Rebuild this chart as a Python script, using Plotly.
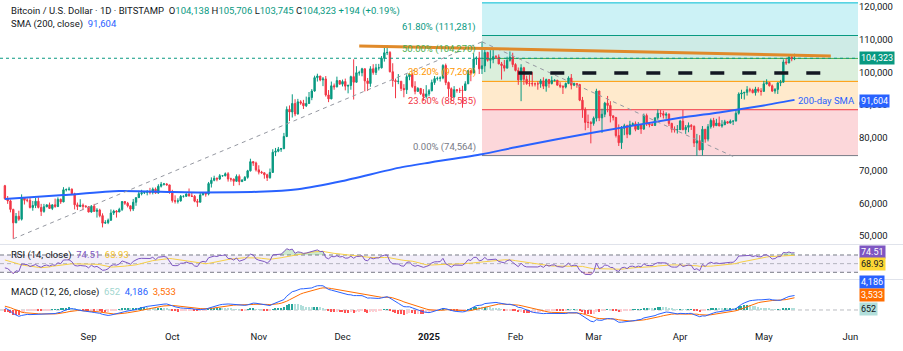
import numpy as np
import pandas as pd
import plotly.graph_objects as go

# ---------------- DATA (BTC/USD daily, thousands of USD) ----------------
# closes before the visible window (only used to warm up RSI / MACD)
close_jun24 = [67.8, 67.8, 68.8, 70.6, 71.1, 70.8, 69.4, 69.3, 69.6, 69.5, 67.3, 68.2, 66.8, 66.0, 66.2,
               66.6, 66.5, 65.2, 65.0, 64.9, 64.1, 64.3, 63.2, 60.3, 61.8, 60.9, 61.6, 60.3, 60.9, 62.7]
close_jul24 = [62.9, 62.0, 60.2, 57.0, 56.6, 58.2, 55.8, 56.7, 57.9, 57.7, 57.3, 57.9, 59.2, 60.8, 64.7, 65.1,
               64.1, 63.9, 66.7, 67.1, 68.2, 67.6, 65.9, 65.4, 65.8, 67.9, 68.0, 68.3, 66.8, 66.2, 64.6]

close_aug24 = [65.35, 61.4, 60.7, 58.1, 54.0, 56.0, 55.1, 61.7, 60.9, 60.9, 58.7, 59.3, 60.6, 58.7, 57.5, 58.9,
               59.5, 58.4, 59.5, 59.0, 61.2, 60.4, 64.1, 64.2, 64.3, 62.9, 59.5, 59.0, 59.4, 59.1, 58.9]
high_aug24 = [65.6, 65.6, 62.2, 61.1, 58.3, 57.0, 57.7, 62.7, 61.8, 61.5, 61.8, 60.7, 61.6, 61.8, 59.8, 59.8,
              59.6, 60.2, 59.6, 61.4, 61.8, 61.4, 64.9, 64.5, 65.0, 64.5, 63.2, 60.2, 61.2, 59.9, 59.4]
low_aug24 = [62.3, 61.1, 59.8, 57.2, 49.1, 53.9, 54.6, 54.7, 59.6, 60.3, 58.4, 57.7, 58.5, 58.4, 56.1, 57.1,
             58.8, 58.3, 57.9, 58.6, 58.8, 59.8, 60.3, 63.6, 63.8, 62.8, 58.1, 57.9, 58.8, 57.9, 58.7]

close_sep24 = [57.3, 59.1, 57.5, 57.9, 56.2, 53.9, 54.1, 54.8, 57.0, 57.6, 57.3, 58.1, 60.5, 60.0, 59.2,
               58.2, 60.3, 61.7, 62.9, 63.2, 63.3, 63.6, 63.3, 64.3, 63.1, 65.2, 65.8, 65.9, 65.6, 63.3]
high_sep24 = [59.1, 59.4, 59.8, 58.5, 58.3, 56.9, 54.8, 55.3, 58.1, 58.0, 57.9, 58.6, 60.6, 60.6, 60.4,
              59.2, 61.3, 61.8, 63.8, 64.1, 63.5, 64.0, 64.7, 64.8, 64.8, 65.8, 66.5, 66.2, 66.1, 65.6]
low_sep24 = [57.2, 57.1, 57.4, 55.6, 55.7, 52.6, 53.7, 53.6, 54.6, 56.4, 55.6, 57.3, 57.6, 59.5, 58.7,
             57.5, 57.6, 59.2, 61.6, 62.4, 62.8, 62.4, 62.7, 62.7, 62.9, 62.9, 64.8, 65.4, 65.4, 62.9]

close_oct24 = [60.8, 60.6, 60.7, 62.1, 62.1, 62.8, 62.2, 62.1, 60.6, 60.3, 62.5, 63.2, 62.8, 66.0, 67.0, 67.6,
               67.4, 68.4, 68.4, 69.0, 67.4, 67.4, 66.7, 68.2, 66.6, 67.0, 67.9, 69.9, 72.7, 72.3, 70.2]
high_oct24 = [64.1, 62.4, 61.5, 62.5, 62.4, 63.0, 64.5, 63.2, 62.5, 61.3, 63.4, 63.4, 63.3, 66.5, 67.9, 68.4,
              67.9, 68.9, 68.6, 69.4, 69.5, 67.8, 67.5, 68.8, 68.8, 67.4, 68.3, 70.2, 73.6, 72.9, 72.7]
low_oct24 = [60.2, 59.9, 59.9, 60.5, 61.7, 62.0, 62.1, 61.9, 60.3, 58.9, 60.3, 62.5, 62.0, 62.4, 64.8, 66.7,
             66.7, 67.1, 68.1, 68.2, 66.6, 66.6, 65.3, 66.6, 65.5, 66.5, 66.8, 67.5, 69.7, 71.4, 69.7]

close_nov24 = [69.5, 69.3, 68.7, 67.8, 69.4, 75.6, 75.9, 76.5, 76.7, 80.4, 88.7, 87.9, 90.5, 87.3, 91.0,
               90.6, 89.8, 90.5, 92.3, 94.3, 98.4, 98.9, 97.7, 98.0, 93.1, 91.9, 95.9, 95.6, 97.5, 96.4]
high_nov24 = [71.6, 69.9, 69.4, 69.0, 70.6, 76.5, 76.9, 77.2, 76.9, 81.5, 89.6, 89.9, 93.3, 91.8, 91.9,
              91.5, 91.6, 92.6, 94.0, 94.9, 99.0, 99.6, 98.7, 98.6, 98.9, 94.6, 97.2, 96.6, 98.7, 97.6]
low_nov24 = [68.8, 69.0, 67.5, 66.8, 67.5, 69.3, 74.4, 75.6, 75.7, 76.5, 80.2, 85.1, 86.2, 86.6, 87.1,
             90.1, 88.8, 89.4, 90.9, 91.5, 94.1, 97.2, 97.3, 95.8, 92.6, 90.9, 91.8, 94.7, 95.4, 96.3]

close_dec24 = [97.2, 95.8, 96.0, 98.7, 97.0, 99.9, 99.9, 101.1, 97.4, 96.6, 101.1, 100.0, 101.4, 101.4, 104.3,
               106.0, 106.1, 100.2, 97.5, 97.2, 97.3, 95.1, 94.7, 98.7, 99.4, 95.7, 94.2, 95.1, 93.5, 92.6, 93.4]
high_dec24 = [97.8, 98.1, 96.3, 99.0, 104.0, 101.9, 100.5, 101.4, 101.2, 98.3, 101.9, 102.5, 102.6, 102.6, 105.0,
              107.8, 108.3, 106.5, 102.8, 98.1, 99.5, 97.3, 96.4, 99.4, 99.9, 99.9, 97.3, 95.5, 95.2, 94.9, 96.1]
low_dec24 = [95.7, 94.5, 93.6, 94.7, 91.7, 96.9, 99.0, 98.8, 94.2, 94.3, 95.6, 99.3, 99.2, 100.6, 101.2,
             103.3, 105.3, 100.0, 95.6, 92.1, 96.4, 94.3, 92.4, 93.4, 97.6, 95.2, 93.3, 94.0, 93.1, 91.3, 92.0]

close_jan25 = [94.4, 96.9, 98.1, 98.2, 98.3, 102.1, 96.9, 95.0, 92.5, 94.7, 94.5, 94.5, 94.5, 96.5, 100.5, 99.8,
               104.1, 104.4, 101.1, 102.0, 106.1, 103.7, 104.0, 104.8, 104.7, 102.6, 102.1, 101.3, 103.7, 104.7, 102.4]
high_jan25 = [94.9, 97.8, 98.9, 98.7, 98.8, 102.5, 102.7, 97.2, 95.4, 95.8, 94.9, 95.3, 95.9, 97.3, 100.7, 100.8,
              105.9, 104.9, 106.3, 109.4, 107.2, 106.3, 106.8, 107.1, 105.3, 105.5, 103.2, 103.8, 104.8, 106.4, 106.0]
low_jan25 = [92.7, 94.2, 96.2, 97.5, 97.2, 97.9, 96.1, 92.5, 91.2, 92.2, 93.8, 93.7, 89.2, 94.3, 96.5, 97.3,
             99.9, 102.3, 99.5, 99.5, 100.1, 103.3, 101.2, 102.8, 104.1, 102.5, 97.8, 100.3, 101.3, 103.3, 101.6]

close_feb25 = [100.6, 97.7, 101.4, 97.9, 96.6, 96.6, 96.5, 96.5, 96.5, 97.4, 95.8, 97.8, 96.6, 97.5,
               97.6, 96.1, 95.8, 95.5, 96.6, 98.3, 96.1, 96.6, 96.3, 91.5, 88.7, 84.7, 84.7, 84.4]
high_feb25 = [102.8, 101.5, 102.5, 101.7, 99.0, 99.2, 100.1, 96.9, 97.3, 98.0, 98.5, 98.1, 98.0, 98.8,
              97.9, 97.7, 97.0, 96.0, 96.9, 98.8, 99.5, 96.9, 96.7, 96.5, 92.5, 89.3, 87.1, 85.1]
low_feb25 = [100.3, 96.2, 91.2, 96.2, 96.2, 95.7, 95.7, 95.7, 94.7, 95.3, 94.9, 94.1, 95.3, 96.3,
             97.2, 96.0, 95.2, 93.4, 95.1, 96.4, 94.8, 95.8, 95.3, 91.2, 86.1, 82.3, 83.0, 78.3]

close_mar25 = [86.0, 94.3, 86.1, 87.2, 90.6, 89.9, 86.7, 86.2, 80.7, 78.5, 82.9, 83.7, 81.1, 84.0, 84.3, 82.6,
               84.0, 82.7, 86.8, 84.2, 84.0, 83.8, 86.1, 87.5, 87.4, 86.9, 87.2, 84.4, 82.6, 82.4, 82.5]
high_mar25 = [86.5, 95.0, 94.4, 88.9, 91.0, 92.8, 91.2, 86.9, 86.4, 84.1, 83.6, 84.3, 84.0, 85.2, 84.7, 85.0,
              84.8, 83.9, 87.4, 87.4, 84.8, 84.5, 86.2, 88.7, 88.5, 88.3, 87.8, 87.5, 84.6, 83.5, 83.9]
low_mar25 = [83.7, 85.0, 85.1, 81.5, 86.3, 87.8, 84.7, 85.3, 80.1, 77.5, 76.6, 80.8, 79.9, 80.8, 83.6, 82.0,
             82.4, 81.2, 82.4, 83.6, 83.2, 83.7, 83.6, 85.5, 86.3, 85.9, 85.8, 83.6, 81.6, 81.6, 81.3]

close_apr25 = [85.1, 82.5, 83.2, 83.8, 83.5, 78.4, 79.1, 76.3, 82.6, 79.6, 83.4, 85.3, 83.7, 84.5, 83.6,
               84.0, 84.9, 84.5, 85.1, 85.1, 87.5, 93.4, 93.7, 93.9, 94.7, 94.6, 93.8, 94.9, 94.3, 94.2]
high_apr25 = [85.5, 88.5, 83.9, 84.7, 84.2, 83.8, 81.2, 80.8, 83.6, 82.7, 84.2, 85.9, 86.1, 85.8, 86.5,
              85.4, 85.5, 85.1, 85.6, 85.3, 88.8, 93.9, 94.7, 94.0, 95.8, 95.3, 95.0, 95.6, 95.5, 95.2]
low_apr25 = [82.4, 82.3, 81.2, 81.7, 82.4, 77.2, 74.5, 76.2, 74.6, 78.5, 78.9, 82.8, 83.1, 83.7, 83.6,
             83.1, 83.9, 84.3, 84.4, 83.9, 85.1, 87.1, 91.9, 91.7, 92.9, 93.9, 93.6, 92.9, 93.8, 92.9]

close_may25 = [96.5, 96.9, 95.9, 94.3, 94.8, 96.8, 97.0, 103.2, 102.9, 104.7, 104.129, 104.323]
high_may25 = [97.4, 97.9, 96.9, 96.3, 95.2, 96.9, 97.7, 104.0, 104.3, 104.9, 104.9, 105.706]
low_may25 = [94.1, 96.3, 95.7, 94.0, 93.5, 93.4, 95.8, 96.9, 102.3, 102.8, 103.4, 103.745]

# header (last candle) values
last_ohlc = [104138, 105706, 103745, 104323]
last_change = "+194 (+0.19%)"

# 200-day SMA (date, value)
sma_dates = ["2024-08-02", "2024-08-23", "2024-09-12", "2024-10-01", "2024-10-10", "2024-11-01", "2024-11-15",
             "2024-12-01", "2024-12-21", "2025-01-01", "2025-01-20", "2025-02-01", "2025-03-01", "2025-04-01",
             "2025-04-15", "2025-05-01", "2025-05-12"]
sma_values = [61300, 62500, 63700, 63400, 63300, 63500, 64300, 66800, 70800, 72400, 75000, 77100, 81650, 86100,
              87770, 89900, 91604]

# legend values shown by the chart
rsi_last, rsi_ma_last = "74.51", "68.93"
macd_hist_last, macd_last, macd_signal_last = "652", "4,186", "3,533"
macd_vals = [652, 4186, 3533]

# Fibonacci retracement
fib_start, fib_end = "2025-01-20", "2025-07-15"
fib_names = ["0.00%", "23.60%", "38.20%", "50.00%", "61.80%", "78.60%"]
fib_values = [74564, 88585, 97260, 104270, 111281, 121262]
fib_colors = ["#787B86", "#F23645", "#FF9800", "#4CAF50", "#089981", "#00BCD4"]
fib_labelled = [True, True, True, True, True, False]

# drawn lines
resist_pts = (("2024-12-07", 108100), ("2025-05-25", 105050))
level_pts = (("2025-02-02", 99800), ("2025-05-22", 99800))
rise_pts = (("2024-08-05", 49100), ("2025-01-20", 109350))
fall_pts = (("2025-01-20", 109350), ("2025-04-20", 74300))

month_ticks = ["2024-09-01", "2024-10-01", "2024-11-01", "2024-12-01", "2025-01-01", "2025-02-01",
               "2025-03-01", "2025-04-01", "2025-05-01", "2025-06-01"]
month_text = ["Sep", "Oct", "Nov", "Dec", "<b>2025</b>", "Feb", "Mar", "Apr", "May", "Jun"]
price_ticks = [50000, 60000, 70000, 80000, 90000, 100000, 110000, 120000]

# ---------------- BUILD SERIES ----------------
all_close = np.array(close_jun24 + close_jul24 + close_aug24 + close_sep24 + close_oct24 + close_nov24 +
                     close_dec24 + close_jan25 + close_feb25 + close_mar25 + close_apr25 + close_may25) * 1000
all_dates = pd.date_range("2024-06-01", periods=len(all_close), freq="D")

highs = np.array(high_aug24 + high_sep24 + high_oct24 + high_nov24 + high_dec24 + high_jan25 + high_feb25 +
                 high_mar25 + high_apr25 + high_may25) * 1000
lows = np.array(low_aug24 + low_sep24 + low_oct24 + low_nov24 + low_dec24 + low_jan25 + low_feb25 +
                low_mar25 + low_apr25 + low_may25) * 1000
ohlc_dates = pd.date_range("2024-08-01", periods=len(highs), freq="D")
off = list(all_dates).index(ohlc_dates[0])
closes = all_close[off:]
opens = all_close[off - 1:-1].copy()
opens[-1] = last_ohlc[0]
highs = np.maximum(highs, np.maximum(opens, closes))
lows = np.minimum(lows, np.minimum(opens, closes))

# RSI 14 (Wilder) + its 14 SMA
delta = np.diff(all_close, prepend=all_close[0])
gain = np.clip(delta, 0, None)
loss = np.clip(-delta, 0, None)
ag = pd.Series(gain).ewm(alpha=1 / 14, adjust=False).mean().values
al = pd.Series(loss).ewm(alpha=1 / 14, adjust=False).mean().values
rsi = 100 - 100 / (1 + ag / al)
rsi_ma = pd.Series(rsi).rolling(14).mean().values

# MACD 12/26/9
s = pd.Series(all_close)
macd = (s.ewm(span=12, adjust=False).mean() - s.ewm(span=26, adjust=False).mean()).values
signal = pd.Series(macd).ewm(span=9, adjust=False).mean().values
hist = macd - signal

vis = all_dates >= pd.Timestamp("2024-08-02")
vd = all_dates[vis]
rsi_v, rsi_ma_v = rsi[vis], rsi_ma[vis]
macd_v, signal_v, hist_v = macd[vis], signal[vis], hist[vis]
hist_prev = hist[np.where(vis)[0] - 1]
hist_colors = []
for h, p in zip(hist_v, hist_prev):
    if h >= 0:
        hist_colors.append("#26A69A" if h > p else "#B2DFDB")
    else:
        hist_colors.append("#FFCDD2" if h > p else "#FF5252")

cvis = ohlc_dates >= pd.Timestamp("2024-08-02")

# ---------------- FIGURE ----------------
FONT = "Roboto, Arial, sans-serif"
TXT = "#131722"
PLOT_H = 323  # px height of plotting area (page 351, bottom margin 28)


def py(pix):  # page-pixel row -> paper fraction for layout elements
    return (PLOT_H - pix) / PLOT_H


fig = go.Figure()

fig.add_trace(go.Candlestick(
    x=ohlc_dates[cvis], open=opens[cvis], high=highs[cvis], low=lows[cvis], close=closes[cvis],
    increasing=dict(line=dict(color="#089981", width=1), fillcolor="#089981"),
    decreasing=dict(line=dict(color="#F23645", width=1), fillcolor="#F23645"),
    whiskerwidth=0, xaxis="x", yaxis="y", showlegend=False, hoverinfo="skip"))

fig.add_trace(go.Scatter(x=pd.to_datetime(sma_dates), y=sma_values, mode="lines",
                         line=dict(color="#2962FF", width=2, shape="spline", smoothing=0.6),
                         xaxis="x", yaxis="y", showlegend=False, hoverinfo="skip"))

# RSI pane
fig.add_trace(go.Scatter(x=vd, y=np.full(len(vd), 70.0), mode="lines", line=dict(width=0),
                         xaxis="x", yaxis="y2", showlegend=False, hoverinfo="skip"))
fig.add_trace(go.Scatter(x=vd, y=np.maximum(rsi_v, 70), mode="lines", line=dict(width=0),
                         fill="tonexty", fillcolor="rgba(76,175,80,0.28)",
                         xaxis="x", yaxis="y2", showlegend=False, hoverinfo="skip"))
fig.add_trace(go.Scatter(x=vd, y=np.full(len(vd), 30.0), mode="lines", line=dict(width=0),
                         xaxis="x", yaxis="y2", showlegend=False, hoverinfo="skip"))
fig.add_trace(go.Scatter(x=vd, y=np.minimum(rsi_v, 30), mode="lines", line=dict(width=0),
                         fill="tonexty", fillcolor="rgba(242,54,69,0.25)",
                         xaxis="x", yaxis="y2", showlegend=False, hoverinfo="skip"))
fig.add_trace(go.Scatter(x=vd, y=rsi_ma_v, mode="lines", line=dict(color="#F7D046", width=1),
                         xaxis="x", yaxis="y2", showlegend=False, hoverinfo="skip"))
fig.add_trace(go.Scatter(x=vd, y=rsi_v, mode="lines", line=dict(color="#7E57C2", width=1),
                         xaxis="x", yaxis="y2", showlegend=False, hoverinfo="skip"))

# MACD pane
fig.add_trace(go.Bar(x=vd, y=hist_v, marker=dict(color=hist_colors, line=dict(width=0)),
                     width=0.45 * 86400000, xaxis="x", yaxis="y3", showlegend=False, hoverinfo="skip"))
fig.add_trace(go.Scatter(x=vd, y=signal_v, mode="lines", line=dict(color="#FF6D00", width=1),
                         xaxis="x", yaxis="y3", showlegend=False, hoverinfo="skip"))
fig.add_trace(go.Scatter(x=vd, y=macd_v, mode="lines", line=dict(color="#2962FF", width=1),
                         xaxis="x", yaxis="y3", showlegend=False, hoverinfo="skip"))

shapes = []
# fib zones
for i in range(1, len(fib_values)):
    c = fib_colors[i]
    r, g, b = int(c[1:3], 16), int(c[3:5], 16), int(c[5:7], 16)
    shapes.append(dict(type="rect", xref="x", yref="y", x0=fib_start, x1=fib_end,
                       y0=fib_values[i - 1], y1=fib_values[i], fillcolor=f"rgba({r},{g},{b},0.2)",
                       line=dict(width=0), layer="below"))
for v, c in zip(fib_values, fib_colors):
    shapes.append(dict(type="line", xref="x", yref="y", x0=fib_start, x1=fib_end, y0=v, y1=v,
                       line=dict(color=c, width=1), layer="below"))
# current price dotted line
shapes.append(dict(type="line", xref="paper", yref="y", x0=0, x1=1, y0=last_ohlc[3], y1=last_ohlc[3],
                   line=dict(color="#089981", width=1, dash="dot")))
# trend lines
for (a, b) in (rise_pts, fall_pts):
    shapes.append(dict(type="line", xref="x", yref="y", x0=a[0], y0=a[1], x1=b[0], y1=b[1],
                       line=dict(color="#9598A1", width=1, dash="4px,4px")))
shapes.append(dict(type="line", xref="x", yref="y", x0=resist_pts[0][0], y0=resist_pts[0][1],
                   x1=resist_pts[1][0], y1=resist_pts[1][1], line=dict(color="#E08A2A", width=3)))
shapes.append(dict(type="line", xref="x", yref="y", x0=level_pts[0][0], y0=level_pts[0][1],
                   x1=level_pts[1][0], y1=level_pts[1][1], line=dict(color="#131722", width=3.5, dash="14px,18px")))
# RSI band
shapes.append(dict(type="rect", xref="paper", yref="y2", x0=0, x1=1, y0=30, y1=70,
                   fillcolor="rgba(126,87,194,0.10)", line=dict(width=0), layer="below"))
for v, col in ((70, "#787B86"), (30, "#787B86"), (50, "rgba(120,123,134,0.5)")):
    shapes.append(dict(type="line", xref="paper", yref="y2", x0=0, x1=1, y0=v, y1=v,
                       line=dict(color=col, width=1, dash="4px,3px"), layer="below"))
# MACD zero line
shapes.append(dict(type="line", xref="paper", yref="y3", x0=0, x1=1, y0=0, y1=0,
                   line=dict(color="rgba(120,123,134,0.5)", width=1, dash="4px,3px"), layer="below"))
# pane separators
for pix in (244.5, 279.5):
    shapes.append(dict(type="line", xref="paper", yref="paper", x0=0, x1=903 / 858, y0=py(pix), y1=py(pix),
                       line=dict(color="#E0E3EB", width=1)))

ann = []
# fib labels
for name, v, c, show in zip(fib_names, fib_values, fib_colors, fib_labelled):
    if show:
        ann.append(dict(xref="x", yref="y", x=fib_start, y=v, xanchor="right", yanchor="bottom",
                        xshift=-4, yshift=1, showarrow=False,
                        text=f"{name} ({v:,})", font=dict(family=FONT, size=9.5, color=c)))
# 200-day SMA label
ann.append(dict(xref="x", yref="y", x=sma_dates[-1], y=sma_values[-1], xanchor="left", yanchor="middle",
                xshift=1, yshift=-1, showarrow=False, text="200-day SMA",
                font=dict(family=FONT, size=9.5, color="#2962FF")))


def box(text, yref, y, bg, fg="white", yshift=0):
    return dict(xref="paper", yref=yref, x=1, y=y, xanchor="left", yanchor="middle", xshift=1, yshift=yshift,
                showarrow=False, text=text, bgcolor=bg, borderpad=1,
                font=dict(family=FONT, size=9, color=fg))


ann.append(box(f"{last_ohlc[3]:,}", "y", last_ohlc[3], "#089981"))
ann.append(box(f"{sma_values[-1]:,}", "y", sma_values[-1], "#2962FF", yshift=-1))
ann.append(box(rsi_last, "y2", float(rsi_last), "#7E57C2", yshift=1))
ann.append(box(rsi_ma_last, "y2", float(rsi_ma_last), "#FDD835", fg=TXT, yshift=-9))
ann.append(box(macd_last, "y3", macd_vals[1], "#2962FF", yshift=14))
ann.append(box(macd_signal_last, "y3", macd_vals[2], "#FF6D00", yshift=3))
ann.append(box(macd_hist_last, "y3", macd_vals[0], "#B2DFDB", fg=TXT, yshift=-1))

G = "#089981"
hdr1 = (f"Bitcoin / U.S. Dollar · 1D · BITSTAMP  O<span style='color:{G}'>{last_ohlc[0]:,}</span> "
        f"H<span style='color:{G}'>{last_ohlc[1]:,}</span> L<span style='color:{G}'>{last_ohlc[2]:,}</span> "
        f"C<span style='color:{G}'>{last_ohlc[3]:,}</span> <span style='color:{G}'>{last_change}</span>")
hdr2 = f"SMA (200, close)  <span style='color:#2962FF'>{sma_values[-1]:,}</span>"
ann.append(dict(xref="paper", yref="paper", x=0, y=py(11), xanchor="left", yanchor="middle", xshift=9,
                showarrow=False, text=hdr1, font=dict(family=FONT, size=9.5, color=TXT)))
ann.append(dict(xref="paper", yref="paper", x=0, y=py(24), xanchor="left", yanchor="middle", xshift=9,
                showarrow=False, text=hdr2, font=dict(family=FONT, size=9.5, color=TXT)))
ann.append(dict(xref="paper", yref="paper", x=0, y=py(255), xanchor="left", yanchor="middle", xshift=9,
                showarrow=False,
                text=f"RSI (14, close)  <span style='color:#7E57C2'>{rsi_last}</span>  "
                     f"<span style='color:#F2C230'>{rsi_ma_last}</span>",
                font=dict(family=FONT, size=9.5, color=TXT)))
ann.append(dict(xref="paper", yref="paper", x=0, y=py(292), xanchor="left", yanchor="middle", xshift=9,
                showarrow=False,
                text=f"MACD (12, 26, close)  <span style='color:#9FD6CF'>{macd_hist_last}</span>  "
                     f"<span style='color:#2962FF'>{macd_last}</span>  "
                     f"<span style='color:#FF6D00'>{macd_signal_last}</span>",
                font=dict(family=FONT, size=9.5, color=TXT)))

fig.update_layout(
    width=903, height=351, margin=dict(l=0, r=45, t=0, b=351 - PLOT_H),
    paper_bgcolor="white", plot_bgcolor="white", showlegend=False, bargap=0,
    font=dict(family=FONT, color=TXT),
    xaxis=dict(type="date", range=["2024-07-31 06:00", "2025-06-03 18:00"], anchor="y3",
               tickvals=month_ticks, ticktext=month_text, showgrid=False, zeroline=False, showline=False,
               ticks="", ticklabelstandoff=6, tickfont=dict(family=FONT, size=9.5, color=TXT),
               rangeslider=dict(visible=False), fixedrange=True),
    yaxis=dict(domain=[py(243), 1], range=[47830, 122140], side="right", anchor="x",
               tickvals=price_ticks, ticktext=[f"{v:,}" for v in price_ticks],
               showgrid=False, zeroline=False, showline=False, ticks="",
               tickfont=dict(family=FONT, size=9.5, color=TXT), fixedrange=True),
    yaxis2=dict(domain=[py(279), py(245)], range=[14.5, 93.1], anchor="x", showticklabels=False,
                showgrid=False, zeroline=False, fixedrange=True),
    yaxis3=dict(domain=[0, py(280)], range=[-3760, 8670], anchor="x", showticklabels=False,
                showgrid=False, zeroline=False, fixedrange=True),
    shapes=shapes, annotations=ann,
)

fig.write_html("out.html")
